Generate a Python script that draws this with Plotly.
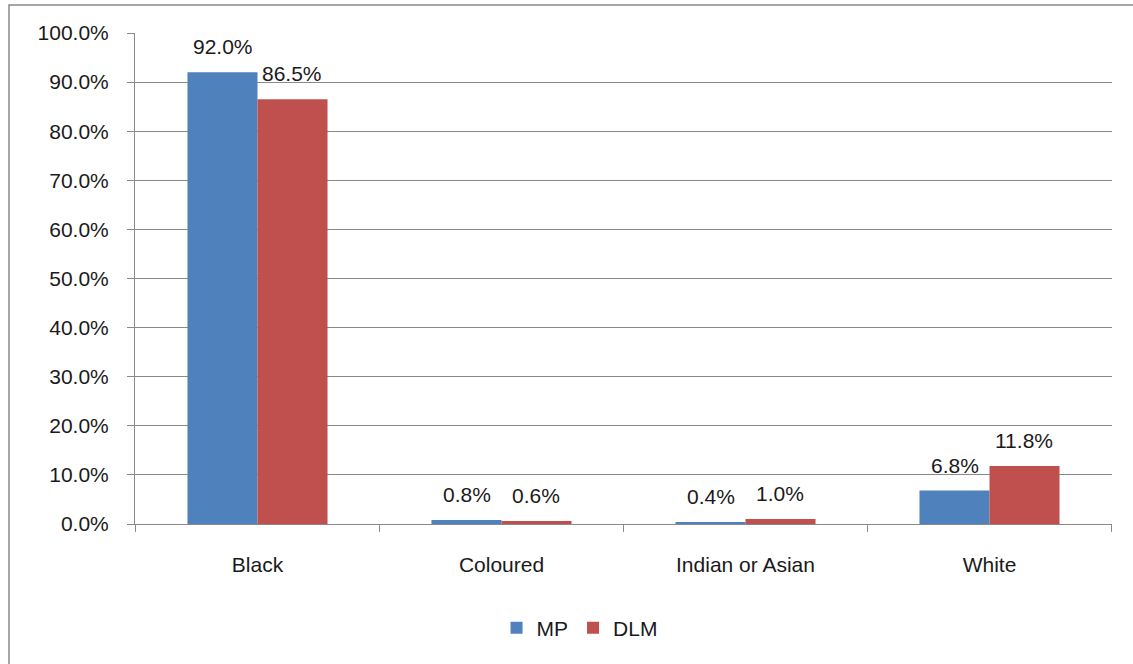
import plotly.graph_objects as go

categories = ["Black", "Coloured", "Indian or Asian", "White"]
mp_values = [92.0, 0.8, 0.4, 6.8]
dlm_values = [86.5, 0.6, 1.0, 11.8]
y_ticks = [0, 10, 20, 30, 40, 50, 60, 70, 80, 90, 100]
y_tick_labels = [f"{v:.1f}%" for v in y_ticks]

FONT = "Liberation Sans"
FS = 21
GRID = "#898989"
TXT = "#1a1a1a"

fig = go.Figure()
fig.add_trace(go.Bar(
    name="MP", x=categories, y=mp_values,
    marker=dict(color="#4f81bd", line=dict(width=0)),
))
fig.add_trace(go.Bar(
    name="DLM", x=categories, y=dlm_values,
    marker=dict(color="#c0504d", line=dict(width=0)),
))

# data labels above each bar
half = 0.143
for i, (m, d) in enumerate(zip(mp_values, dlm_values)):
    for off, v in ((-half, m), (half, d)):
        fig.add_annotation(x=i + off, y=v, xref="x", yref="y",
                           text=f"{v:.1f}%", showarrow=False,
                           yanchor="bottom", yshift=12,
                           font=dict(family=FONT, size=FS, color=TXT))

fig.update_layout(
    width=1133, height=664,
    margin=dict(l=135, r=21, t=33, b=140),
    paper_bgcolor="white", plot_bgcolor="white",
    barmode="group", bargap=0.426, bargroupgap=0,
    font=dict(family=FONT, size=FS, color=TXT),
    showlegend=True,
    legend=dict(orientation="h", x=0.455, xanchor="center", y=-0.212, yanchor="middle",
                font=dict(family=FONT, size=FS), traceorder="normal"),
)
fig.update_yaxes(
    range=[0, 100], tickvals=y_ticks, ticktext=y_tick_labels,
    showgrid=True, gridcolor=GRID, gridwidth=1,
    showline=True, linecolor=GRID, linewidth=1,
    ticks="outside", ticklen=7, tickcolor=GRID, zeroline=False,
    tickfont=dict(family=FONT, size=FS), ticklabelstandoff=14,
)
fig.update_xaxes(
    showline=True, linecolor=GRID, linewidth=1, mirror=False,
    ticks="", tickfont=dict(family=FONT, size=FS), ticklabelstandoff=22,
)
# category boundary tick marks on the x axis
for i in range(len(categories) + 1):
    fig.add_shape(type="line", xref="x", yref="paper",
                  x0=i - 0.5, x1=i - 0.5, y0=0, y1=-0.016,
                  line=dict(color=GRID, width=1))
# chart frame
fig.add_shape(type="rect", xref="paper", yref="paper",
              x0=(9 - 135) / 977, x1=1.1, y0=-0.4, y1=1 + (33 - 5) / 491,
              line=dict(color=GRID, width=1.5), fillcolor="rgba(0,0,0,0)", layer="below")

fig.write_html("out.html")
